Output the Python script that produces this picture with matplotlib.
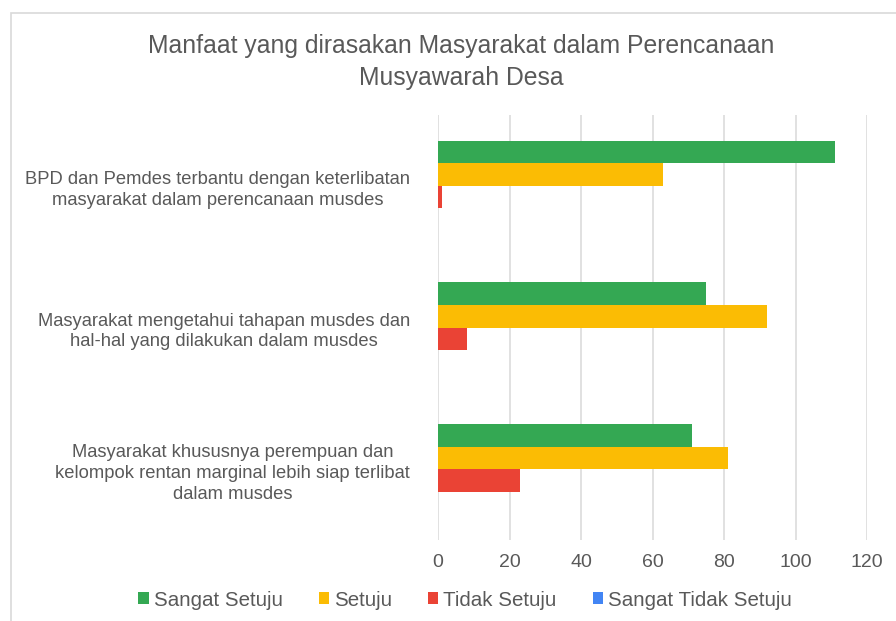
import matplotlib
matplotlib.use("Agg")
import matplotlib.pyplot as plt
from matplotlib.patches import Rectangle, Patch
import numpy as np

plt.rcParams['font.family'] = ['Liberation Sans', 'DejaVu Sans']

title = "Manfaat yang dirasakan Masyarakat dalam Perencanaan\nMusyawarah Desa"
categories = [
    "BPD dan Pemdes terbantu dengan keterlibatan\nmasyarakat dalam perencanaan musdes",
    "Masyarakat mengetahui tahapan musdes dan\nhal-hal yang dilakukan dalam musdes",
    "Masyarakat khususnya perempuan dan\nkelompok rentan marginal lebih siap terlibat\ndalam musdes",
]
series_names = ["Sangat Setuju", "Setuju", "Tidak Setuju", "Sangat Tidak Setuju"]
sangat_setuju = [111, 75, 71]
setuju = [63, 92, 81]
tidak_setuju = [1, 8, 23]
sangat_tidak_setuju = [0, 0, 0]
colors = ["#34A853", "#FBBC04", "#EA4335", "#4285F4"]
xticks = [0, 20, 40, 60, 80, 100, 120]

text_color = "#595959"
grid_color = "#d9d9d9"

W, H = 896, 621
fig = plt.figure(figsize=(W / 100, H / 100), dpi=100)
ax = fig.add_axes([438 / W, 1 - 540 / H, (867 - 438) / W, (540 - 115) / H])

values = [sangat_setuju, setuju, tidak_setuju, sangat_tidak_setuju]
y = np.arange(len(categories))
h = 0.159
offsets = [-1.5 * h, -0.5 * h, 0.5 * h, 1.5 * h]
for vals, off, col in zip(values, offsets, colors):
    ax.barh(y + off, vals, height=h, color=col, linewidth=0, zorder=3)

ax.set_ylim(len(categories) - 0.5, -0.5)
ax.set_xlim(0, 120)
ax.set_xticks(xticks)
ax.set_xticklabels([str(t) for t in xticks], fontsize=14, color=text_color)
ax.set_yticks(y)
ax.set_yticklabels(categories, fontsize=13.2, color=text_color,
                   multialignment='center', linespacing=1.3)
ax.tick_params(axis='both', length=0)
ax.tick_params(axis='x', pad=10)
ax.tick_params(axis='y', pad=20)
for s in ax.spines.values():
    s.set_visible(False)
ax.grid(axis='x', color=grid_color, linewidth=1.1, zorder=0)
ax.set_axisbelow(True)

fig.text(461 / W, 1 - 62 / H, title, ha='center', va='center', fontsize=17.8,
         color=text_color, linespacing=1.45)

handles = [Patch(facecolor=c, edgecolor='none') for c in colors]
fig.legend(handles, series_names, loc='center', bbox_to_anchor=(465 / W, 1 - 600 / H),
           ncol=4, frameon=False, fontsize=14.8, handlelength=0.5, handleheight=0.5,
           handletextpad=0.25, columnspacing=1.75, labelcolor=text_color)

fig.patches.append(Rectangle((10.5 / W, -0.1), 1.2, (H - 12.5) / H + 0.1,
                             transform=fig.transFigure, fill=False,
                             edgecolor=grid_color, linewidth=1.2))

fig.savefig("out.png", dpi=100)
